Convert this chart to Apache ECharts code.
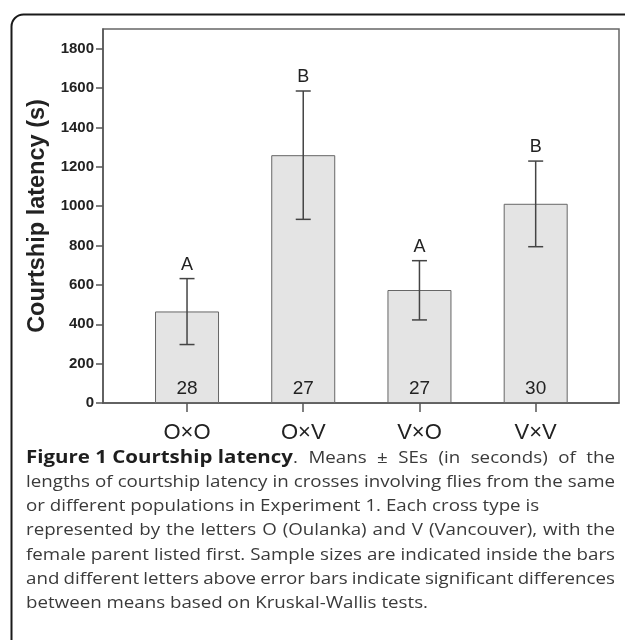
<!DOCTYPE html>
<html>
<head>
<meta charset="utf-8">
<script src="https://cdn.jsdelivr.net/npm/echarts@6/dist/echarts.min.js"></script>
<style>
html,body{margin:0;padding:0;background:#fff;}
#chart{width:625px;height:640px;}
</style>
</head>
<body>
<div id="chart"></div>
<script>
// ---- data ----
var categories = ['O\u00d7O', 'O\u00d7V', 'V\u00d7O', 'V\u00d7V'];
var means = [465, 1259, 574, 1012];
var seLow = [297, 933, 422, 794];
var seHigh = [632, 1585, 723, 1229];
var sampleSizes = [28, 27, 27, 30];
var groupLetters = ['A', 'B', 'A', 'B'];
var yTicks = [0, 200, 400, 600, 800, 1000, 1200, 1400, 1600, 1800];
var captionTitle = 'Figure 1 Courtship latency';
var captionLines = [
  '. Means \u00b1 SEs (in seconds) of the',
  'lengths of courtship latency in crosses involving flies from the same',
  'or different populations in Experiment 1. Each cross type is',
  'represented by the letters O (Oulanka) and V (Vancouver), with the',
  'female parent listed first. Sample sizes are indicated inside the bars',
  'and different letters above error bars indicate significant differences',
  'between means based on Kruskal-Wallis tests.'
];
var justified = [true, true, false, true, true, true, false];

var chart = echarts.init(document.getElementById('chart'), null, {renderer: 'canvas'});

var barData = means.map(function (v, i) { return [i, v]; });
var errData = means.map(function (v, i) { return [i, seLow[i], seHigh[i]]; });

// caption layout helpers (word-level justification, horizontally scaled glyphs)
var measureCtx = document.createElement('canvas').getContext('2d');
function textWidth(t, font) { measureCtx.font = font; return measureCtx.measureText(t).width; }
var capFont = '16px "Open Sans"';
var capBoldFont = 'bold 17.5px "Open Sans"';
var capLeft = 26, capRight = 615, capTop = 458, capStep = 24.3, sc = 1.17;

var graphics = [
  {
    type: 'rect', left: 9, top: 12, z: 0, silent: true,
    shape: {x: 0, y: 0, width: 700, height: 700, r: 12},
    style: {fill: null, stroke: '#1a1a1a', lineWidth: 2}
  }
];
function addText(t, x, y, font, fill) {
  graphics.push({
    type: 'text', x: x, y: y, scaleX: sc, originX: 0, originY: 0,
    style: {text: t, font: font, fill: fill, verticalAlign: 'middle', align: 'left'}
  });
}
var boldW = textWidth(captionTitle, capBoldFont) * sc;
addText(captionTitle, capLeft, capTop, capBoldFont, '#1e1e1e');
captionLines.forEach(function (t, i) {
  var y = capTop + i * capStep;
  var startX = i === 0 ? capLeft + boldW : capLeft;
  if (!justified[i]) { addText(t, startX, y, capFont, '#3a3a3a'); return; }
  var words = t.split(' ');
  var widths = words.map(function (w) { return textWidth(w, capFont) * sc; });
  var total = widths.reduce(function (a, b) { return a + b; }, 0);
  var gap = (capRight - startX - total) / (words.length - 1);
  var x = startX;
  words.forEach(function (w, k) {
    addText(w, x, y, capFont, '#3a3a3a');
    x += widths[k] + gap;
  });
});

var option = {
  animation: false,
  backgroundColor: '#fff',
  grid: {
    left: 103, top: 29, width: 516, height: 374,
    show: true, borderColor: '#666', borderWidth: 1.5, backgroundColor: 'transparent'
  },
  xAxis: {
    type: 'value', min: -0.723, max: 3.717,
    splitLine: {show: false},
    axisLine: {show: true, lineStyle: {color: '#555', width: 1.5}},
    axisTick: {show: true, customValues: [0, 1, 2, 3], length: 9, lineStyle: {color: '#555', width: 1.5}},
    axisLabel: {
      customValues: [0, 1, 2, 3],
      formatter: function (v) { return categories[Math.round(v)]; },
      fontFamily: 'Liberation Sans, Arial', fontSize: 22, color: '#222', margin: 19
    }
  },
  yAxis: {
    type: 'value', min: 0, max: 1900,
    name: 'Courtship latency (s)',
    nameLocation: 'middle', nameGap: 53,
    nameTextStyle: {fontFamily: 'Liberation Sans, Arial', fontWeight: 'bold', fontSize: 23.5, color: '#222'},
    splitLine: {show: false},
    axisLine: {show: true, onZero: false, lineStyle: {color: '#555', width: 1.5}},
    axisTick: {show: true, customValues: yTicks, length: 7, lineStyle: {color: '#555', width: 1.5}},
    axisLabel: {
      customValues: yTicks,
      formatter: function (v) { return String(v); },
      fontFamily: 'Liberation Sans, Arial', fontWeight: 'bold', fontSize: 15, color: '#222', margin: 9
    }
  },
  series: [
    {
      type: 'bar', data: barData, barWidth: 64,
      itemStyle: {color: '#e4e4e4', borderColor: '#666', borderWidth: 1},
      label: {
        show: true, position: 'insideBottom', distance: 5,
        formatter: function (p) { return sampleSizes[p.dataIndex]; },
        fontFamily: 'Liberation Sans, Arial', fontSize: 19, color: '#222'
      },
      z: 2
    },
    {
      type: 'custom', data: errData, z: 3,
      renderItem: function (params, api) {
        var x = api.value(0);
        var lo = api.coord([x, api.value(1)]);
        var hi = api.coord([x, api.value(2)]);
        var half = 7.5;
        var st = {stroke: '#444', lineWidth: 1.5};
        return {
          type: 'group',
          children: [
            {type: 'line', shape: {x1: lo[0], y1: lo[1], x2: hi[0], y2: hi[1]}, style: st},
            {type: 'line', shape: {x1: lo[0] - half, y1: lo[1], x2: lo[0] + half, y2: lo[1]}, style: st},
            {type: 'line', shape: {x1: hi[0] - half, y1: hi[1], x2: hi[0] + half, y2: hi[1]}, style: st},
            {type: 'text', style: {
              text: groupLetters[params.dataIndex], x: hi[0], y: hi[1] - 5,
              align: 'center', verticalAlign: 'bottom',
              font: '18px "Liberation Sans", Arial', fill: '#222'
            }}
          ]
        };
      }
    }
  ],
  graphic: graphics
};
chart.setOption(option);
</script>
</body>
</html>
